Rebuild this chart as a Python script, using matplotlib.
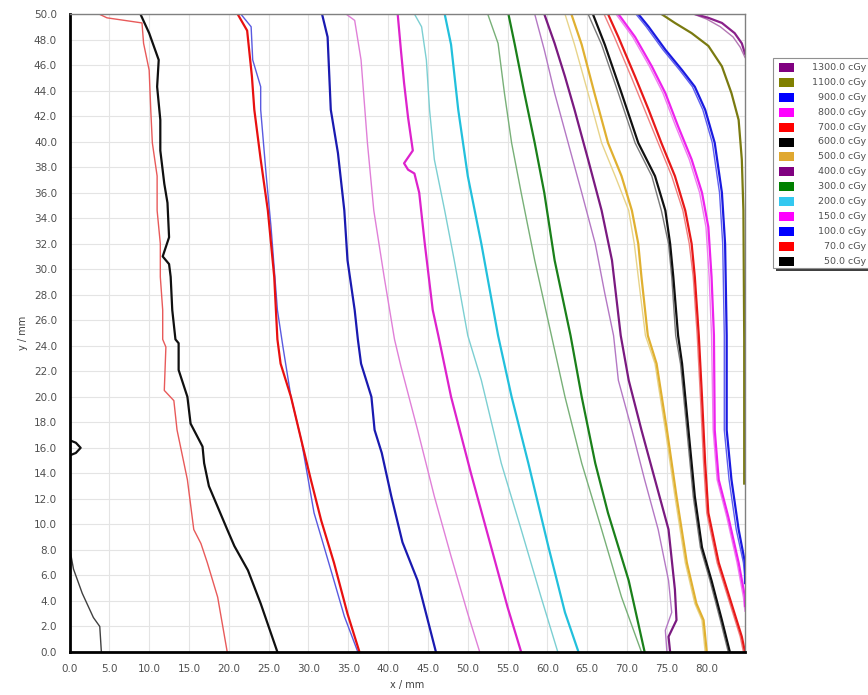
import numpy as np
import matplotlib
matplotlib.use('Agg')
import matplotlib.pyplot as plt
from matplotlib.patches import Rectangle

# isodose levels shown in the legend (top to bottom)
levels = ['1300.0 cGy', '1100.0 cGy', '900.0 cGy', '800.0 cGy', '700.0 cGy', '600.0 cGy',
          '500.0 cGy', '400.0 cGy', '300.0 cGy', '200.0 cGy', '150.0 cGy', '100.0 cGy',
          '70.0 cGy', '50.0 cGy']
level_colors = ['#800080', '#808000', '#0000ff', '#ff00ff', '#ff0000', '#000000',
                '#e0a830', '#800080', '#008000', '#33c8f0', '#ff00ff', '#0000ff',
                '#ff0000', '#000000']

# --- contour traces (x / mm, y / mm), thick = plan, thin = measured ---
x50 = [8.9, 10.0, 11.2, 11.0, 11.4, 11.4, 11.9, 12.3, 12.5, 11.7, 12.5, 12.7, 12.9, 13.3,
       13.7, 13.7, 14.8, 15.2, 16.7, 16.9, 17.5, 19.8, 20.7, 22.4, 24.0, 26.1]
y50 = [50.0, 48.5, 46.4, 44.3, 41.7, 39.3, 36.7, 35.2, 32.5, 31.0, 30.4, 29.4, 26.8, 24.5,
       24.2, 22.1, 20.0, 17.9, 16.1, 14.8, 13.0, 9.6, 8.3, 6.4, 3.8, 0.0]
x50_loop = [0.0, 0.8, 1.4, 0.8, 0.0]
y50_loop = [16.6, 16.4, 16.0, 15.6, 15.4]
x50_thin = [0.0, 0.5, 1.6, 3.0, 3.8, 4.0]
y50_thin = [8.2, 6.5, 4.6, 2.7, 2.0, 0.0]

x70_thin = [3.7, 4.7, 9.1, 9.3, 10.0, 10.2, 10.4, 11.0, 11.0, 11.4, 11.4, 11.7, 11.7, 12.1,
            11.9, 13.1, 13.5, 14.8, 15.6, 16.5, 17.3, 18.6, 19.8]
y70_thin = [50.0, 49.7, 49.3, 47.7, 45.6, 42.5, 39.9, 37.3, 34.6, 32.0, 29.4, 26.8, 24.5, 23.9,
            20.5, 19.7, 17.4, 13.5, 9.6, 8.5, 7.0, 4.3, 0.0]
x70 = [21.1, 22.3, 22.9, 23.2, 24.0, 24.9, 25.7, 26.1, 26.5, 27.8, 29.1, 30.3, 31.6, 33.2,
       34.9, 36.4]
y70 = [50.0, 48.7, 45.1, 42.5, 38.6, 34.6, 29.4, 24.5, 22.6, 20.0, 16.6, 13.5, 10.3, 7.0,
       3.0, 0.0]

x100_thin = [21.5, 22.8, 23.0, 24.0, 24.0, 24.7, 25.3, 26.1, 26.8, 27.8, 29.1, 30.7, 31.6,
             33.2, 34.5, 36.2]
y100_thin = [50.0, 49.0, 46.4, 44.3, 42.5, 37.3, 33.3, 26.8, 23.9, 20.0, 16.6, 10.9, 9.0,
             5.6, 2.8, 0.0]
x100 = [31.7, 32.4, 32.8, 33.7, 34.5, 34.9, 35.8, 36.2, 36.6, 37.9, 38.3, 39.2, 40.4, 41.8,
        43.7, 46.0]
y100 = [50.0, 48.2, 42.5, 39.1, 34.6, 30.7, 26.8, 24.5, 22.6, 20.0, 17.4, 15.6, 12.2, 8.6,
        5.6, 0.0]

x150_thin = [34.7, 35.8, 36.6, 37.4, 38.2, 39.5, 40.8, 41.6, 43.7, 45.8, 47.9, 50.0, 51.5]
y150_thin = [50.0, 49.5, 46.4, 39.9, 34.6, 29.4, 24.5, 22.4, 17.4, 12.2, 7.5, 3.0, 0.0]
x150 = [41.2, 41.6, 42.0, 42.5, 43.1, 42.0, 42.5, 43.3, 43.9, 44.6, 45.6, 46.3, 47.9, 50.4,
        52.9, 55.0, 56.7]
y150 = [50.0, 47.2, 44.6, 41.9, 39.3, 38.3, 37.8, 37.5, 36.0, 32.0, 26.8, 24.8, 20.0, 14.0,
        8.3, 3.5, 0.0]

x200_thin = [43.3, 44.2, 44.8, 45.2, 45.8, 47.1, 48.3, 50.0, 51.7, 54.2, 56.7, 59.2, 61.3]
y200_thin = [50.0, 49.0, 46.4, 42.5, 38.6, 34.6, 30.7, 24.8, 21.3, 14.8, 9.6, 4.3, 0.0]
x200 = [47.1, 47.9, 48.8, 50.0, 51.7, 53.8, 55.5, 57.6, 60.1, 62.2, 63.9]
y200 = [50.0, 47.6, 42.5, 37.3, 32.0, 24.8, 20.0, 14.8, 8.3, 3.1, 0.0]

x300_thin = [52.5, 53.8, 54.6, 55.5, 56.7, 58.4, 60.5, 62.2, 64.3, 66.8, 69.3, 71.8]
y300_thin = [50.0, 47.7, 43.8, 39.9, 36.0, 30.7, 24.8, 20.0, 14.8, 9.6, 4.3, 0.0]
x300 = [55.1, 55.9, 57.1, 58.4, 59.6, 60.9, 62.9, 64.3, 66.0, 67.6, 70.2, 72.2]
y300 = [50.0, 47.6, 43.8, 39.9, 36.0, 30.7, 24.8, 20.0, 14.8, 10.9, 5.6, 0.0]

x400_thin = [58.4, 59.6, 60.9, 62.6, 64.3, 66.0, 67.2, 68.3, 68.9, 70.6, 72.2, 73.9, 75.2,
             75.6, 74.8, 75.0]
y400_thin = [50.0, 47.2, 43.8, 39.9, 36.0, 32.0, 28.1, 24.8, 21.3, 17.4, 13.5, 9.6, 5.6,
             3.1, 1.7, 0.0]
x400 = [59.6, 60.9, 62.2, 63.4, 65.1, 66.8, 68.1, 69.2, 70.2, 71.8, 73.5, 75.2, 76.0, 76.2,
        75.2, 75.4]
y400 = [50.0, 47.7, 45.1, 42.5, 38.6, 34.6, 30.7, 24.8, 21.3, 17.4, 13.5, 9.6, 4.9, 2.5,
        1.2, 0.0]

x500_thin = [62.2, 63.4, 65.1, 66.8, 68.5, 70.2, 70.9, 71.4, 72.3, 73.5, 74.8, 76.0, 77.3,
             78.5, 79.4, 79.8]
y500_thin = [50.0, 47.6, 43.8, 39.9, 37.3, 34.6, 32.0, 29.4, 24.8, 22.6, 17.4, 12.2, 7.0,
             3.8, 2.5, 0.0]
x500 = [63.0, 64.3, 65.9, 67.6, 69.3, 70.6, 71.4, 71.8, 72.6, 73.7, 75.0, 76.2, 77.5, 78.7,
        79.6, 80.0]
y500 = [50.0, 47.6, 43.8, 39.9, 37.3, 34.6, 32.0, 29.4, 24.8, 22.6, 17.4, 12.2, 7.0, 3.8,
        2.5, 0.0]

x600_thin = [65.1, 66.8, 68.9, 71.0, 73.1, 74.3, 75.2, 75.6, 76.1, 76.7, 77.5, 78.3, 79.2,
             80.4, 81.7, 82.7]
y600_thin = [50.0, 47.6, 43.8, 39.9, 37.3, 34.6, 32.0, 29.4, 24.8, 22.6, 17.4, 12.2, 8.2,
             5.6, 2.5, 0.0]
x600 = [65.7, 67.2, 69.3, 71.4, 73.5, 74.8, 75.4, 75.8, 76.4, 76.9, 77.7, 78.5, 79.4, 80.6,
        81.9, 82.9]
y600 = [50.0, 47.6, 43.8, 39.9, 37.3, 34.6, 32.0, 29.4, 24.8, 22.6, 17.4, 12.2, 8.2, 5.6,
        2.5, 0.0]

x700_thin = [67.1, 68.4, 70.5, 72.2, 73.9, 75.6, 77.0, 77.8, 78.3, 78.8, 79.2, 79.6, 80.0,
             81.3, 82.9, 84.2, 84.6]
y700_thin = [50.0, 48.2, 45.1, 42.5, 39.9, 37.3, 34.6, 32.0, 29.4, 24.8, 20.0, 14.8, 10.9,
             7.0, 3.8, 1.2, 0.0]
x700 = [67.6, 68.9, 71.0, 72.7, 74.3, 76.0, 77.3, 78.1, 78.5, 79.0, 79.4, 79.8, 80.2, 81.5,
        83.1, 84.4, 84.8]
y700 = [50.0, 48.2, 45.1, 42.5, 39.9, 37.3, 34.6, 32.0, 29.4, 24.8, 20.0, 14.8, 10.9, 7.0,
        3.8, 1.2, 0.0]

x800_thin = [68.6, 70.7, 72.8, 74.5, 76.1, 77.8, 79.1, 79.9, 80.3, 80.6, 80.8, 81.3, 82.5,
             83.8, 84.6, 84.8]
y800_thin = [50.0, 48.2, 45.9, 43.8, 41.2, 38.6, 36.0, 33.3, 29.4, 24.8, 17.4, 13.5, 10.6,
             7.0, 4.3, 3.2]
x800 = [68.9, 71.0, 73.1, 74.8, 76.4, 78.1, 79.4, 80.2, 80.6, 80.9, 81.0, 81.5, 82.7, 84.0,
        84.8, 84.8]
y800 = [50.0, 48.2, 45.9, 43.8, 41.2, 38.6, 36.0, 33.3, 29.4, 24.8, 17.4, 13.5, 10.6, 7.0,
        4.3, 3.6]

x900_thin = [71.1, 72.4, 74.5, 76.6, 78.2, 79.5, 80.7, 81.6, 82.0, 82.2, 82.2, 82.8, 83.7,
             84.6, 84.8]
y900_thin = [50.0, 49.0, 47.2, 45.6, 44.3, 42.5, 39.9, 36.0, 32.0, 24.8, 17.4, 13.5, 9.6,
             7.0, 5.8]
x900 = [71.4, 72.7, 74.8, 76.9, 78.5, 79.8, 81.0, 81.9, 82.3, 82.5, 82.5, 83.1, 84.0, 84.8,
        84.8]
y900 = [50.0, 49.0, 47.2, 45.6, 44.3, 42.5, 39.9, 36.0, 32.0, 24.8, 17.4, 13.5, 9.6, 7.0,
        5.4]

x1100 = [74.3, 76.0, 78.1, 80.2, 81.9, 83.1, 84.0, 84.4, 84.6, 84.7, 84.7]
y1100 = [50.0, 49.3, 48.5, 47.5, 45.9, 43.8, 41.7, 38.6, 34.6, 24.5, 13.2]

x1300_thin = [78.3, 80.0, 81.7, 83.3, 84.2, 84.8]
y1300_thin = [50.0, 49.6, 49.0, 48.2, 47.4, 46.6]
x1300 = [78.5, 80.2, 81.9, 83.5, 84.4, 84.8]
y1300 = [50.0, 49.7, 49.3, 48.5, 47.7, 46.9]

THICK = 1.6
THIN = 1.0

fig = plt.figure(figsize=(8.68, 6.95), dpi=100)
ax = fig.add_axes([69.5 / 868, 43 / 695, 675.5 / 868, 638 / 695])

ax.set_xlim(0, 84.8)
ax.set_ylim(0, 50)
ax.set_xticks(np.arange(0, 81, 5))
ax.set_yticks(np.arange(0, 51, 2))
ax.set_xticklabels(['%.1f' % v for v in np.arange(0, 81, 5)])
ax.set_yticklabels(['%.1f' % v for v in np.arange(0, 51, 2)])
ax.tick_params(length=0, labelsize=7.5, labelcolor='#505050')
ax.tick_params(axis='x', pad=9)
ax.tick_params(axis='y', pad=9)
ax.grid(True, color='#e4e4e4', lw=0.8)
ax.set_axisbelow(True)
for s in ['top', 'right']:
    ax.spines[s].set_color('#808080')
    ax.spines[s].set_linewidth(1.0)
for s in ['left', 'bottom']:
    ax.spines[s].set_color('#000000')
    ax.spines[s].set_linewidth(2.0)
ax.set_xlabel('x / mm', fontsize=7, color='#404040', labelpad=4)
ax.set_ylabel('y / mm', fontsize=7, color='#404040', labelpad=4)

# thin (measured) curves
ax.plot(x50_thin, y50_thin, color='#404040', lw=THIN)
ax.plot(x70_thin, y70_thin, color='#e85a5a', lw=THIN)
ax.plot(x100_thin, y100_thin, color='#5a5ae0', lw=THIN)
ax.plot(x150_thin, y150_thin, color='#e080d8', lw=THIN)
ax.plot(x200_thin, y200_thin, color='#7ccfd2', lw=THIN)
ax.plot(x300_thin, y300_thin, color='#78b078', lw=THIN)
ax.plot(x400_thin, y400_thin, color='#b478c4', lw=THIN)
ax.plot(x500_thin, y500_thin, color='#e8d48a', lw=THIN)
ax.plot(x600_thin, y600_thin, color='#7a7a7a', lw=THIN)
ax.plot(x700_thin, y700_thin, color='#f08080', lw=THIN)
ax.plot(x800_thin, y800_thin, color='#f080f0', lw=THIN)
ax.plot(x900_thin, y900_thin, color='#6060f0', lw=THIN)
ax.plot(x1300_thin, y1300_thin, color='#b478b4', lw=THIN)

# thick (plan) curves
ax.plot(x50, y50, color='#101010', lw=THICK)
ax.plot(x50_loop, y50_loop, color='#101010', lw=THICK)
ax.plot(x70, y70, color='#e81010', lw=THICK)
ax.plot(x100, y100, color='#1a1ab0', lw=THICK)
ax.plot(x150, y150, color='#dd22cc', lw=THICK)
ax.plot(x200, y200, color='#22c0dc', lw=THICK)
ax.plot(x300, y300, color='#1a801a', lw=THICK)
ax.plot(x400, y400, color='#7a1a80', lw=THICK)
ax.plot(x500, y500, color='#e0b030', lw=THICK)
ax.plot(x600, y600, color='#101010', lw=THICK)
ax.plot(x700, y700, color='#e81818', lw=THICK)
ax.plot(x800, y800, color='#ee22ee', lw=THICK)
ax.plot(x900, y900, color='#1a1ae0', lw=THICK)
ax.plot(x1100, y1100, color='#7a7a10', lw=THICK)
ax.plot(x1300, y1300, color='#8a208a', lw=THICK)

# legend box outside the plot, drawn by hand
W, H = 868.0, 695.0
box_left, box_top, box_bottom = 773, 58, 268
fig.add_artist(Rectangle(((box_left + 3) / W, 1 - (box_bottom + 3) / H), 120 / W,
                         (box_bottom - box_top) / H, transform=fig.transFigure,
                         facecolor='#404040', edgecolor='none', zorder=1))
fig.add_artist(Rectangle((box_left / W, 1 - box_bottom / H), 120 / W,
                         (box_bottom - box_top) / H, transform=fig.transFigure,
                         facecolor='white', edgecolor='#909090', lw=0.8, zorder=2))
row0, step = 67.5, 14.9
for i, (lab, col) in enumerate(zip(levels, level_colors)):
    yc = row0 + i * step
    fig.add_artist(Rectangle((779 / W, 1 - (yc + 4.5) / H), 15 / W, 9 / H,
                             transform=fig.transFigure, facecolor=col,
                             edgecolor='none', zorder=3))
    fig.text(866 / W, 1 - yc / H, lab, ha='right', va='center', fontsize=6.8,
             color='#505050', zorder=4)

fig.savefig('out.png', dpi=100)
